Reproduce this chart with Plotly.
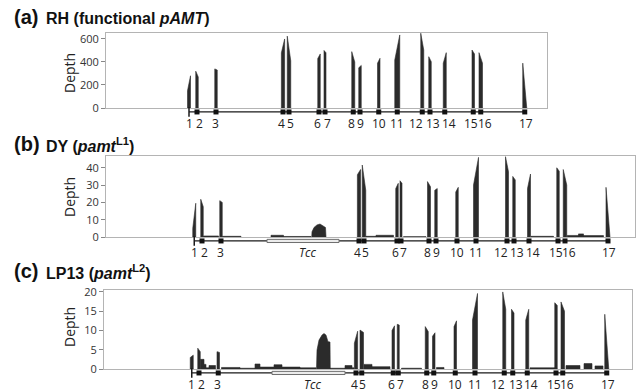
import plotly.graph_objects as go

# ---------------- data ----------------
EXON_LABELS = [str(i) for i in range(1, 18)]
EXON_LEN_KB = [0.12, 0.10, 0.10, 0.13, 0.14, 0.10, 0.08, 0.12, 0.10, 0.10,
               0.20, 0.12, 0.10, 0.12, 0.10, 0.14, 0.16]

# exon centres (kb) along each locus
EXON_POS_RH = [3.32, 3.64, 4.40, 7.08, 7.32, 8.52, 8.76, 9.89, 10.16, 10.91,
               11.65, 12.65, 12.96, 13.55, 14.69, 14.99, 16.75]
EXON_POS_DY = [3.53, 3.84, 4.60, 10.12, 10.32, 11.64, 11.80, 12.92, 13.20, 14.04,
               14.80, 16.04, 16.32, 16.92, 18.08, 18.36, 20.08]
EXON_POS_LP = [3.51, 3.80, 4.57, 10.08, 10.31, 11.57, 11.77, 12.91, 13.19, 14.05,
               14.84, 16.01, 16.35, 16.93, 18.08, 18.35, 20.11]
TCC_DY = (6.44, 9.32)
TCC_LP = (6.72, 9.64)

# read depth at the left / right edge of each exon
DEPTH_RH_L = [150, 320, 340, 480, 625, 430, 500, 490, 350, 390, 417, 650, 446, 390, 504, 481, 390]
DEPTH_RH_R = [280, 270, 330, 600, 410, 470, 480, 400, 370, 432, 635, 504, 403, 481, 470, 390, 0]
DEPTH_DY_L = [5, 21.8, 21, 36, 41.6, 28, 32.5, 32, 27, 26, 30, 46.4, 35, 28, 40, 39, 28.7]
DEPTH_DY_R = [19.5, 17.5, 20, 39, 27, 31, 31, 29, 28, 28.7, 46, 37.7, 33, 36.4, 38, 30, 0]
DEPTH_LP_L = [3.0, 5.4, 4.5, 6.7, 10.1, 10.0, 11.6, 11.0, 8.5, 11.0, 12.7, 20.0, 15.5, 12.7, 17.2, 17.4, 14.2]
DEPTH_LP_R = [3.6, 4.5, 4.3, 9.8, 9.5, 11.2, 11.4, 9.7, 9.4, 12.5, 19.6, 15.5, 14.5, 15.5, 16.5, 15.0, 0]

# low background coverage outside exons: (start kb, end kb, depth)
BG_DY = [(3.90, 4.50, 0.6), (4.66, 5.40, 0.4), (6.60, 7.10, 1.0), (7.10, 8.20, 0.3),
         (10.40, 10.80, 0.4), (10.80, 11.50, 1.0), (11.90, 12.80, 0.2),
         (17.00, 17.90, 0.4), (18.45, 18.90, 0.9), (18.90, 19.10, 1.8), (19.10, 19.90, 0.8)]
BG_LP = [(3.86, 4.00, 2.5), (4.00, 4.08, 1.2), (4.08, 4.20, 0.3), (4.20, 4.46, 0.9),
         (4.70, 5.44, 0.4), (5.44, 6.04, 0.2), (6.04, 6.24, 1.3), (6.24, 6.80, 0.5),
         (6.80, 7.12, 1.1), (7.12, 7.84, 0.5), (7.84, 8.48, 0.3), (9.04, 9.64, 0.2),
         (9.64, 9.92, 0.9), (9.92, 10.00, 0.3), (10.40, 10.72, 1.2), (10.72, 11.44, 0.6),
         (11.90, 12.70, 0.2), (13.30, 13.60, 0.4), (17.04, 18.04, 0.3),
         (18.48, 19.04, 0.9), (19.20, 19.52, 1.4), (19.64, 19.96, 0.8)]
# read pile-up inside the Tcc element
TCC_PEAK_DY_X = [8.23, 8.24, 8.32, 8.44, 8.56, 8.68, 8.78, 8.80]
TCC_PEAK_DY_Y = [0, 3.0, 5.5, 7.0, 7.5, 6.5, 5.5, 0]
TCC_PEAK_LP_X = [8.50, 8.52, 8.60, 8.72, 8.80, 8.88, 8.96, 9.04, 9.05]
TCC_PEAK_LP_Y = [0, 4.9, 7.5, 8.8, 9.2, 8.8, 7.1, 7.0, 0]

YTICKS_RH = [0, 200, 400, 600]
YTICKS_DY = [0, 10, 20, 30, 40]
YTICKS_LP = [0, 5, 10, 15, 20]

# ---------------- style / layout ----------------
W, H = 640, 392
FILL = "#2b2b2b"
BOX = "#b4b4b4"
FONT = "Open Sans"
LABEL_SHIFT = {1: 0, 2: 2, 3: -1, 4: -2, 5: 1, 6: -2, 7: 2, 8: -1.5, 9: 0.5,
               12: -6, 13: 3, 14: 4, 15: -2, 16: 4, 17: 1}


def fx(p):
    return p / W


def fy(p):
    return 1 - p / H


panels = [
    dict(title_tag="(a)", title="RH (functional <i>pAMT</i>)", pos=EXON_POS_RH,
         L=DEPTH_RH_L, R=DEPTH_RH_R, bg=[], peak=None, tcc=None, ticks=YTICKS_RH,
         xpx=(106, 547), ypx=(33, 108), xr=17.64, yr=652, title_y=17, depth_y=73),
    dict(title_tag="(b)", title="DY (<i>pamt</i><sup>L1</sup>)", pos=EXON_POS_DY,
         L=DEPTH_DY_L, R=DEPTH_DY_R, bg=BG_DY, peak=(TCC_PEAK_DY_X, TCC_PEAK_DY_Y),
         tcc=TCC_DY, ticks=YTICKS_DY,
         xpx=(106, 635), ypx=(156, 237), xr=21.16, yr=46.8, title_y=144, depth_y=197),
    dict(title_tag="(c)", title="LP13 (<i>pamt</i><sup>L2</sup>)", pos=EXON_POS_LP,
         L=DEPTH_LP_L, R=DEPTH_LP_R, bg=BG_LP, peak=(TCC_PEAK_LP_X, TCC_PEAK_LP_Y),
         tcc=TCC_LP, ticks=YTICKS_LP,
         xpx=(104, 632), ypx=(290, 369), xr=21.12, yr=20.5, title_y=271, depth_y=327),
]

fig = go.Figure()
layout = dict(width=W, height=H, margin=dict(l=0, r=0, t=0, b=0, autoexpand=False),
              paper_bgcolor="white", plot_bgcolor="white", showlegend=False,
              template="none",
              font=dict(family=FONT, color="#333"))
annotations = []
shapes = []

for i, p in enumerate(panels):
    ax_main = 2 * i + 1
    ax_gene = 2 * i + 2
    xm = "x" if ax_main == 1 else f"x{ax_main}"
    ym = "y" if ax_main == 1 else f"y{ax_main}"
    xg, yg = f"x{ax_gene}", f"y{ax_gene}"
    xm_key = "xaxis" if ax_main == 1 else f"xaxis{ax_main}"
    ym_key = "yaxis" if ax_main == 1 else f"yaxis{ax_main}"

    # ---- coverage polygons ----
    xs, ys = [], []
    for c, w, hl, hr in zip(p["pos"], EXON_LEN_KB, p["L"], p["R"]):
        xl, xr_ = c - w / 2, c + w / 2
        xs += [xl, xl, xr_, xr_, xl, None]
        ys += [0, hl, hr, 0, 0, None]
    for s, e, lv in p["bg"]:
        xs += [s, s, e, e, s, None]
        ys += [0, lv, lv, 0, 0, None]
    if p["peak"]:
        px_, py_ = p["peak"]
        xs += list(px_) + [px_[0], None]
        ys += list(py_) + [py_[0], None]
    fig.add_trace(go.Scatter(x=xs, y=ys, xaxis=xm, yaxis=ym, mode="lines",
                             fill="toself", fillcolor=FILL,
                             line=dict(color=FILL, width=0.6), hoverinfo="skip"))

    # ---- gene model ----
    pos = p["pos"]
    fig.add_trace(go.Scatter(x=[pos[0], pos[-1]], y=[0, 0], xaxis=xg, yaxis=yg,
                             mode="lines", line=dict(color="#1a1a1a", width=1.3),
                             hoverinfo="skip", cliponaxis=False))
    if p["tcc"]:
        shapes.append(dict(type="rect", xref=xg, yref=yg, x0=p["tcc"][0], x1=p["tcc"][1],
                           y0=-0.14, y1=0.14, fillcolor="#ececec",
                           line=dict(color="#6e6e6e", width=1), layer="above"))
    fig.add_trace(go.Scatter(x=[pos[0]], y=[0], xaxis=xg, yaxis=yg, mode="markers",
                             marker=dict(symbol="line-ns", size=7,
                                         line=dict(color="#1a1a1a", width=1.5)),
                             hoverinfo="skip", cliponaxis=False))
    fig.add_trace(go.Scatter(x=pos[1:], y=[0] * (len(pos) - 1), xaxis=xg, yaxis=yg,
                             mode="markers",
                             marker=dict(symbol="square", size=5, color="#111"),
                             hoverinfo="skip", cliponaxis=False))
    for lab, c in zip(EXON_LABELS, pos):
        annotations.append(dict(x=c, y=-1.0, xref=xg, yref=yg, text=lab, showarrow=False,
                                xanchor="center", yanchor="middle",
                                xshift=LABEL_SHIFT.get(int(lab), 0),
                                font=dict(size=12, color="#222", family=FONT)))
    if p["tcc"]:
        annotations.append(dict(x=(p["tcc"][0] + p["tcc"][1]) / 2, y=-1.0, xref=xg, yref=yg,
                                text="<i>Tcc</i>", showarrow=False, xshift=4,
                                font=dict(size=12, color="#222", family=FONT)))

    # ---- axes ----
    xdom = [fx(p["xpx"][0]), fx(p["xpx"][1])]
    layout[xm_key] = dict(domain=xdom, range=[0, p["xr"]], showgrid=False, zeroline=False,
                          showticklabels=False, ticks="", showline=True, mirror=True,
                          linecolor=BOX, linewidth=1, anchor=ym, automargin=False)
    layout[ym_key] = dict(domain=[fy(p["ypx"][1]), fy(p["ypx"][0])], range=[0, p["yr"]],
                          tickvals=p["ticks"], showgrid=False, zeroline=False,
                          ticks="outside", ticklen=4, tickcolor="#888", tickwidth=1,
                          showline=True, mirror=True, linecolor=BOX, linewidth=1,
                          tickfont=dict(size=11, color="#333", family=FONT), anchor=xm,
                          automargin=False)
    layout[f"xaxis{ax_gene}"] = dict(domain=xdom, range=[0, p["xr"]], matches=xm,
                                     visible=False, anchor=yg, automargin=False)
    layout[f"yaxis{ax_gene}"] = dict(domain=[fy(p["ypx"][1] + 22), fy(p["ypx"][1])],
                                     range=[-1.6, 0.35], visible=False, anchor=xg,
                                     automargin=False)

    # ---- titles ----
    annotations.append(dict(x=fx(12), y=fy(p["title_y"]), xref="paper", yref="paper",
                            text="<b>" + p["title_tag"] + "</b>", showarrow=False,
                            xanchor="left", yanchor="middle",
                            font=dict(size=20, color="#111", family="Liberation Sans")))
    annotations.append(dict(x=fx(44), y=fy(p["title_y"] + 1), xref="paper", yref="paper",
                            text="<b>" + p["title"] + "</b>", showarrow=False,
                            xanchor="left", yanchor="middle",
                            font=dict(size=16, color="#111", family="Liberation Sans")))
    annotations.append(dict(x=fx(69), y=fy(p["depth_y"]), xref="paper", yref="paper",
                            text="Depth", showarrow=False, textangle=-90,
                            xanchor="center", yanchor="middle",
                            font=dict(size=14, color="#222", family=FONT)))

layout["annotations"] = annotations
layout["shapes"] = shapes
fig.update_layout(**layout)
fig.write_html("out.html", config={"displayModeBar": False},
               post_script="document.body.style.margin='0';document.body.style.overflow='hidden';")
